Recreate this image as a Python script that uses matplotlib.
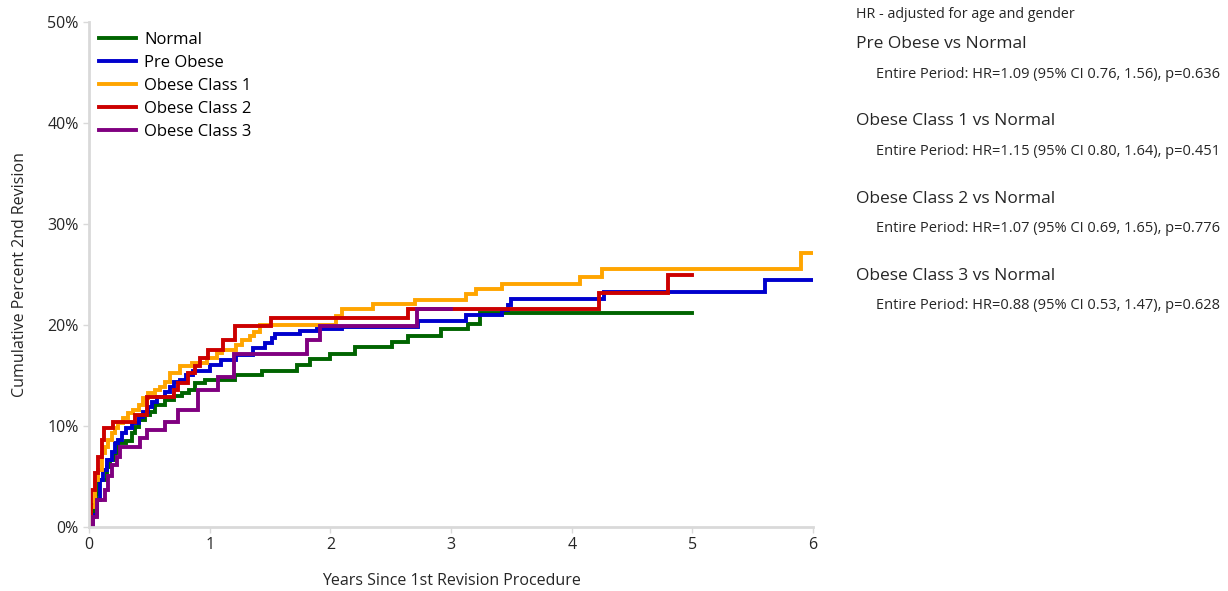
import matplotlib
matplotlib.use('Agg')
import matplotlib.pyplot as plt

plt.rcParams['font.family'] = ['Open Sans', 'DejaVu Sans']

# Kaplan-Meier style cumulative revision curves (years, percent)
normal_t = [0, 0.02, 0.04, 0.06, 0.08, 0.147, 0.174, 0.215, 0.243, 0.31, 0.354, 0.381, 0.41,
            0.464, 0.505, 0.547, 0.63, 0.70, 0.77, 0.83, 0.88, 0.96, 1.21, 1.43, 1.72, 1.83,
            2.0, 2.2, 2.51, 2.64, 2.92, 3.14, 3.24, 5.0]
normal_v = [0, 1.0, 2.2, 3.3, 4.7, 5.9, 6.6, 7.3, 8.3, 8.5, 9.3, 9.9, 10.6,
            11.1, 11.4, 12.1, 12.6, 13.0, 13.3, 13.6, 14.3, 14.6, 15.0, 15.4, 16.0, 16.6,
            17.1, 17.8, 18.3, 18.9, 19.6, 20.1, 21.2, 21.2]

pre_t = [0, 0.03, 0.064, 0.09, 0.118, 0.147, 0.188, 0.215, 0.243, 0.27, 0.31, 0.354, 0.41,
         0.45, 0.49, 0.52, 0.56, 0.63, 0.67, 0.70, 0.75, 0.80, 0.86, 1.0, 1.09, 1.22, 1.36,
         1.46, 1.52, 1.54, 1.75, 1.89, 2.1, 2.73, 3.12, 3.42, 3.47, 3.5, 4.27, 5.6, 6.0]
pre_v = [0, 1.2, 2.7, 4.7, 5.6, 6.6, 7.4, 8.3, 8.6, 9.3, 9.8, 10.3, 10.9,
         11.4, 11.9, 12.4, 12.9, 13.4, 13.9, 14.4, 14.6, 15.0, 15.4, 16.0, 16.5, 17.0, 17.7,
         18.2, 18.7, 19.1, 19.4, 19.6, 19.8, 20.4, 21.0, 21.5, 22.0, 22.6, 23.3, 24.5, 24.5]

ob1_t = [0, 0.02, 0.05, 0.077, 0.105, 0.133, 0.16, 0.188, 0.215, 0.243, 0.284, 0.326, 0.367,
         0.41, 0.45, 0.49, 0.547, 0.59, 0.63, 0.67, 0.75, 0.85, 0.98, 1.06, 1.1, 1.22, 1.27,
         1.33, 1.37, 1.42, 2.05, 2.1, 2.35, 2.7, 3.12, 3.21, 3.42, 4.07, 4.25, 5.9, 6.0]
ob1_v = [0, 2.0, 4.7, 5.6, 7.3, 7.9, 8.6, 9.3, 9.8, 10.3, 10.8, 11.3, 11.6,
         12.1, 12.8, 13.3, 13.6, 13.9, 14.4, 15.2, 15.9, 16.2, 16.7, 17.2, 17.5, 18.0, 18.5,
         18.9, 19.3, 20.0, 20.9, 21.6, 22.1, 22.5, 23.1, 23.6, 24.1, 24.8, 25.5, 27.1, 27.1]

ob2_t = [0, 0.01, 0.02, 0.05, 0.077, 0.105, 0.12, 0.2, 0.38, 0.48, 0.7, 0.74, 0.82, 0.88,
         0.92, 0.99, 1.11, 1.21, 1.51, 2.64, 4.23, 4.8, 5.0]
ob2_v = [0, 1.4, 3.7, 5.3, 6.9, 8.6, 9.8, 10.4, 11.1, 12.9, 13.6, 14.3, 15.2, 15.9,
         16.7, 17.5, 18.5, 19.9, 20.7, 21.6, 23.2, 24.9, 24.9]

ob3_t = [0, 0.036, 0.066, 0.13, 0.16, 0.19, 0.23, 0.26, 0.42, 0.48, 0.63, 0.74, 0.9, 1.07,
         1.2, 1.81, 1.91, 2.72, 3.0]
ob3_v = [0, 1.0, 2.7, 3.7, 5.0, 6.1, 6.9, 7.9, 8.8, 9.6, 10.4, 11.6, 13.6, 14.9,
         17.1, 18.5, 19.9, 21.6, 21.6]

series = [
    ('Normal', normal_t, normal_v, '#006400'),
    ('Pre Obese', pre_t, pre_v, '#0000cd'),
    ('Obese Class 1', ob1_t, ob1_v, '#ffa500'),
    ('Obese Class 2', ob2_t, ob2_v, '#cc0000'),
    ('Obese Class 3', ob3_t, ob3_v, '#800080'),
]

headings = ['Pre Obese vs Normal', 'Obese Class 1 vs Normal',
            'Obese Class 2 vs Normal', 'Obese Class 3 vs Normal']
hr_text = ['Entire Period: HR=1.09 (95% CI 0.76, 1.56), p=0.636',
           'Entire Period: HR=1.15 (95% CI 0.80, 1.64), p=0.451',
           'Entire Period: HR=1.07 (95% CI 0.69, 1.65), p=0.776',
           'Entire Period: HR=0.88 (95% CI 0.53, 1.47), p=0.628']

fig = plt.figure(figsize=(12.28, 5.91), dpi=100)
ax = fig.add_axes([0.0725, 0.1083, 0.5896, 0.8545])

for name, t, v, c in series:
    ax.step(t, v, where='post', color=c, lw=2.8, label=name, solid_joinstyle='miter')

ax.set_xlim(0, 6)
ax.set_ylim(0, 50)
ax.set_xticks(range(7))
ax.set_yticks(range(0, 51, 10))
ax.set_yticklabels([f'{y}%' for y in range(0, 51, 10)])
for s in ['top', 'right']:
    ax.spines[s].set_visible(False)
for s in ['left', 'bottom']:
    ax.spines[s].set_color('#d9d9d9')
    ax.spines[s].set_linewidth(2)
ax.tick_params(colors='#d9d9d9', labelcolor='#262626', labelsize=11.5, length=4, width=1)
ax.set_xlabel('Years Since 1st Revision Procedure', fontsize=11.5, color='#262626', labelpad=14)
ax.set_ylabel('Cumulative Percent 2nd Revision', fontsize=11.5, color='#262626', labelpad=14)

ax.legend(loc='upper left', bbox_to_anchor=(0.0, 1.0), frameon=False, fontsize=12,
          handlelength=2.2, handletextpad=0.5, labelspacing=0.42, borderaxespad=0.2)

# HR annotations on the right
fig.text(856 / 1228, 1 - 14 / 591, 'HR - adjusted for age and gender', fontsize=10.3,
         color='#262626', va='center')
for i, (h, s) in enumerate(zip(headings, hr_text)):
    yh = 44 + i * 77.3
    fig.text(856 / 1228, 1 - yh / 591, h, fontsize=12.5, color='#262626', va='center')
    fig.text(876 / 1228, 1 - (yh + 30) / 591, s, fontsize=10.5, color='#262626', va='center')

fig.savefig('out.png', dpi=100)
